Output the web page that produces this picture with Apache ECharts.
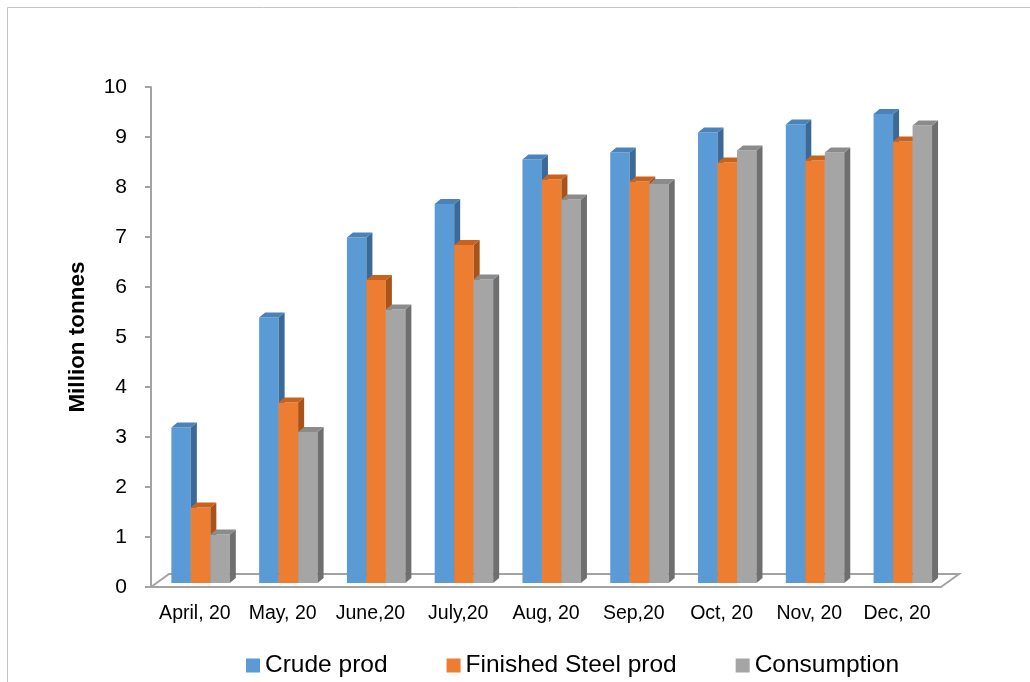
<!DOCTYPE html>
<html>
<head>
<meta charset="utf-8">
<title>Steel production and consumption</title>
<script src="https://cdn.jsdelivr.net/npm/echarts@6/dist/echarts.min.js"></script>
<style>
  html, body { margin: 0; padding: 0; background: #fff; }
  #chart { width: 1030px; height: 682px; }
</style>
</head>
<body>
<div id="chart"></div>
<script>
// month labels
var categories = ['April, 20', 'May, 20', 'June,20', 'July,20', 'Aug, 20', 'Sep,20', 'Oct, 20', 'Nov, 20', 'Dec, 20']
// million tonnes
var crudeProd = [3.11, 5.31, 6.91, 7.58, 8.47, 8.61, 9.01, 9.17, 9.38]
var finishedSteelProd = [1.51, 3.61, 6.06, 6.76, 8.07, 8.03, 8.41, 8.45, 8.83]
var consumption = [0.97, 3.02, 5.47, 6.07, 7.67, 7.98, 8.65, 8.61, 9.15]
var yTicks = [0, 1, 2, 3, 4, 5, 6, 7, 8, 9, 10]

var FONT = '"Liberation Sans", Arial, sans-serif'
var AXIS_GRAY = '#a3a3a3'

// front / top / side colours for the fake 3d columns
var palettes = [
  { front: '#5b9bd5', top: '#4a82ba', side: '#3c6a98' },
  { front: '#ed7d31', top: '#c9621d', side: '#a9531a' },
  { front: '#a5a5a5', top: '#8b8b8b', side: '#6f6f6f' }
]

function column(idx) {
  var pal = palettes[idx]
  return function (params, api) {
    var top = api.coord([api.value(0), api.value(1)])
    var base = api.coord([api.value(0), 0])
    var band = api.size([1, 0])[0]
    var w = band * 0.222
    var x0 = top[0] - band * 0.268 + idx * w
    var yT = top[1] - 4
    var yB = base[1] - 4
    var dx = 6, dy = -5
    return {
      type: 'group',
      children: [
        { type: 'rect', shape: { x: x0, y: yT, width: w, height: yB - yT }, style: { fill: pal.front } },
        { type: 'polygon', shape: { points: [[x0 + w, yT], [x0 + w + dx, yT + dy], [x0 + w + dx, yB + dy], [x0 + w, yB]] }, style: { fill: pal.side } },
        { type: 'polygon', shape: { points: [[x0, yT], [x0 + dx, yT + dy], [x0 + w + dx, yT + dy], [x0 + w, yT]] }, style: { fill: pal.top } }
      ]
    }
  }
}

function floor(params) {
  var cs = params.coordSys
  var by = cs.y + cs.height
  return {
    type: 'polyline',
    shape: { points: [[cs.x, by], [cs.x + 18, by - 13], [cs.x + cs.width + 18, by - 13], [cs.x + cs.width, by]] },
    style: { stroke: AXIS_GRAY, lineWidth: 2, fill: null }
  }
}

function toData(arr) {
  return arr.map(function (v, i) { return [i, v] })
}

var chart = echarts.init(document.getElementById('chart'))
chart.setOption({
  animation: false,
  textStyle: { fontFamily: FONT },
  graphic: [{
    type: 'rect',
    shape: { x: 7.5, y: 7.5, width: 1060, height: 720 },
    style: { fill: null, stroke: '#c4c4c4', lineWidth: 1 },
    silent: true
  }],
  grid: { left: 151, right: 89, top: 87, bottom: 95 },
  legend: {
    data: ['Crude prod', 'Finished Steel prod', 'Consumption'],
    left: 246,
    top: 653,
    padding: 0,
    icon: 'rect',
    itemWidth: 14,
    itemHeight: 14,
    itemGap: 59,
    textStyle: { fontSize: 24.5, color: '#000', fontFamily: FONT }
  },
  xAxis: {
    type: 'category',
    data: categories,
    axisLine: { lineStyle: { color: AXIS_GRAY, width: 2 } },
    axisTick: { length: 6, lineStyle: { color: AXIS_GRAY, width: 2 } },
    axisLabel: { fontSize: 19.5, color: '#000', margin: 17, interval: 0 }
  },
  yAxis: {
    type: 'value',
    min: yTicks[0],
    max: yTicks[yTicks.length - 1],
    interval: 1,
    name: 'Million tonnes',
    nameLocation: 'middle',
    nameRotate: 90,
    nameGap: 62,
    nameTextStyle: { fontSize: 22.5, fontWeight: 'bold', color: '#000' },
    axisLine: { show: true, lineStyle: { color: AXIS_GRAY, width: 2 } },
    axisTick: { show: true, length: 6, lineStyle: { color: AXIS_GRAY, width: 2 } },
    axisLabel: { fontSize: 21, color: '#000', margin: 24 },
    splitLine: { show: false }
  },
  series: [
    { type: 'custom', name: 'floor', renderItem: floor, data: [[0, 0]], z: 1, silent: true },
    { type: 'custom', name: 'Crude prod', renderItem: column(0), data: toData(crudeProd), itemStyle: { color: palettes[0].front }, z: 2 },
    { type: 'custom', name: 'Finished Steel prod', renderItem: column(1), data: toData(finishedSteelProd), itemStyle: { color: palettes[1].front }, z: 3 },
    { type: 'custom', name: 'Consumption', renderItem: column(2), data: toData(consumption), itemStyle: { color: palettes[2].front }, z: 4 }
  ]
})
</script>
</body>
</html>
